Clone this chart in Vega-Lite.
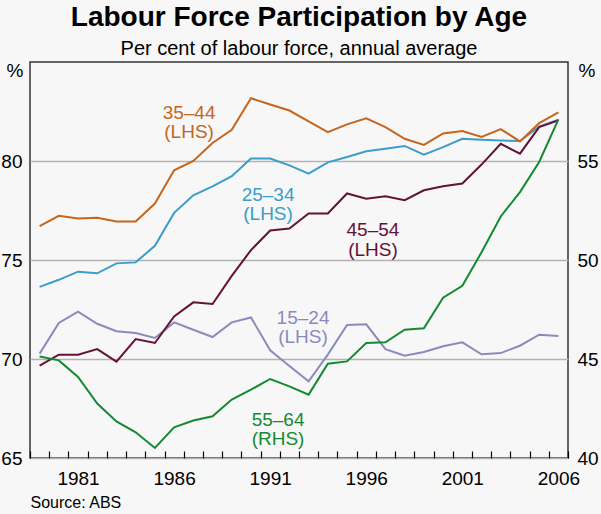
{
  "$schema": "https://vega.github.io/schema/vega-lite/v6.json",
  "width": 538,
  "height": 396,
  "autosize": {"type": "none"},
  "padding": {"left": 30, "top": 62, "right": 33, "bottom": 56},
  "background": "#f7f7f7",
  "title": {
    "text": "Labour Force Participation by Age",
    "subtitle": "Per cent of labour force, annual average",
    "anchor": "middle",
    "font": "Liberation Sans",
    "fontSize": 28,
    "fontWeight": "bold",
    "color": "#000000",
    "subtitleFont": "Liberation Sans",
    "subtitleFontSize": 20,
    "subtitleColor": "#000000",
    "subtitlePadding": 6.5,
    "offset": 3
  },
  "config": {
    "view": {"stroke": "#333333", "strokeWidth": 1.5},
    "axis": {
      "labelFont": "Liberation Sans",
      "labelFontSize": 19,
      "labelColor": "#000000",
      "titleFont": "Liberation Sans",
      "titleColor": "#000000",
      "titleFontWeight": "normal",
      "domain": false
    },
    "text": {"font": "Liberation Sans"}
  },
  "datasets": {
    "lfp": [
      {"year": 1979, "15–24": 70.27, "25–34": 73.64, "35–44": 76.71, "45–54": 69.66, "55–64": 45.13},
      {"year": 1980, "15–24": 71.82, "25–34": 74.0, "35–44": 77.23, "45–54": 70.22, "55–64": 44.93},
      {"year": 1981, "15–24": 72.39, "25–34": 74.41, "35–44": 77.1, "45–54": 70.22, "55–64": 44.09},
      {"year": 1982, "15–24": 71.78, "25–34": 74.33, "35–44": 77.13, "45–54": 70.5, "55–64": 42.75},
      {"year": 1983, "15–24": 71.4, "25–34": 74.83, "35–44": 76.95, "45–54": 69.87, "55–64": 41.85},
      {"year": 1984, "15–24": 71.31, "25–34": 74.88, "35–44": 76.95, "45–54": 71.01, "55–64": 41.3},
      {"year": 1985, "15–24": 71.06, "25–34": 75.72, "35–44": 77.85, "45–54": 70.81, "55–64": 40.51},
      {"year": 1986, "15–24": 71.85, "25–34": 77.38, "35–44": 79.53, "45–54": 72.15, "55–64": 41.55},
      {"year": 1987, "15–24": 71.48, "25–34": 78.27, "35–44": 80.0, "45–54": 72.86, "55–64": 41.89},
      {"year": 1988, "15–24": 71.11, "25–34": 78.72, "35–44": 80.91, "45–54": 72.78, "55–64": 42.11},
      {"year": 1989, "15–24": 71.85, "25–34": 79.23, "35–44": 81.58, "45–54": 74.2, "55–64": 42.95},
      {"year": 1990, "15–24": 72.1, "25–34": 80.12, "35–44": 83.17, "45–54": 75.5, "55–64": 43.45},
      {"year": 1991, "15–24": 70.44, "25–34": 80.12, "35–44": 82.85, "45–54": 76.49, "55–64": 43.99},
      {"year": 1992, "15–24": 69.65, "25–34": 79.78, "35–44": 82.55, "45–54": 76.59, "55–64": 43.62},
      {"year": 1993, "15–24": 68.87, "25–34": 79.36, "35–44": 82.0, "45–54": 77.35, "55–64": 43.2},
      {"year": 1994, "15–24": 70.22, "25–34": 79.93, "35–44": 81.46, "45–54": 77.35, "55–64": 44.76},
      {"year": 1995, "15–24": 71.72, "25–34": 80.2, "35–44": 81.85, "45–54": 78.36, "55–64": 44.88},
      {"year": 1996, "15–24": 71.75, "25–34": 80.49, "35–44": 82.16, "45–54": 78.1, "55–64": 45.81},
      {"year": 1997, "15–24": 70.5, "25–34": 80.62, "35–44": 81.71, "45–54": 78.22, "55–64": 45.84},
      {"year": 1998, "15–24": 70.17, "25–34": 80.76, "35–44": 81.12, "45–54": 78.02, "55–64": 46.48},
      {"year": 1999, "15–24": 70.35, "25–34": 80.32, "35–44": 80.81, "45–54": 78.52, "55–64": 46.55},
      {"year": 2000, "15–24": 70.64, "25–34": 80.7, "35–44": 81.39, "45–54": 78.72, "55–64": 48.1},
      {"year": 2001, "15–24": 70.84, "25–34": 81.12, "35–44": 81.51, "45–54": 78.86, "55–64": 48.7},
      {"year": 2002, "15–24": 70.24, "25–34": 81.07, "35–44": 81.22, "45–54": 79.82, "55–64": 50.39},
      {"year": 2003, "15–24": 70.3, "25–34": 81.04, "35–44": 81.61, "45–54": 80.87, "55–64": 52.2},
      {"year": 2004, "15–24": 70.67, "25–34": 81.01, "35–44": 80.99, "45–54": 80.37, "55–64": 53.43},
      {"year": 2005, "15–24": 71.23, "25–34": 81.74, "35–44": 81.91, "45–54": 81.71, "55–64": 54.95},
      {"year": 2006, "15–24": 71.16, "25–34": 82.08, "35–44": 82.45, "45–54": 82.05, "55–64": 57.1}
    ],
    "notes": [
      {"age": "35–44", "side": "LHS", "label": "35–44\n(LHS)", "year": 1986.78, "value": 82.43},
      {"age": "25–34", "side": "LHS", "label": "25–34\n(LHS)", "year": 1990.89, "value": 78.29},
      {"age": "45–54", "side": "LHS", "label": "45–54\n(LHS)", "year": 1996.35, "value": 76.5},
      {"age": "15–24", "side": "LHS", "label": "15–24\n(LHS)", "year": 1992.71, "value": 72.09},
      {"age": "55–64", "side": "RHS", "label": "55–64\n(RHS)", "year": 1991.41, "value": 41.92}
    ]
  },
  "encoding": {
    "x": {
      "field": "year",
      "type": "quantitative",
      "scale": {"domain": [1978.5, 2006.5], "nice": false, "zero": false},
      "axis": {
        "values": [1978.5, 1979.5, 1980.5, 1981.5, 1982.5, 1983.5, 1984.5, 1985.5, 1986.5, 1987.5, 1988.5, 1989.5, 1990.5, 1991.5, 1992.5, 1993.5, 1994.5, 1995.5, 1996.5, 1997.5, 1998.5, 1999.5, 2000.5, 2001.5, 2002.5, 2003.5, 2004.5, 2005.5, 2006.5],
        "labelExpr": "(datum.value + 0.5) % 5 == 1 ? format(datum.value + 0.5, 'd') : ''",
        "labelOffset": 9.6,
        "labelPadding": 18,
        "labelFlush": false,
        "labelOverlap": false,
        "tickSize": -7,
        "tickColor": "#000000",
        "tickWidth": 1.2,
        "grid": false,
        "title": "Source: ABS",
        "titleFontSize": 16,
        "titleX": 0,
        "titleY": 49.5,
        "titleAlign": "left",
        "titleBaseline": "alphabetic"
      }
    }
  },
  "layer": [
    {
      "encoding": {
        "y": {
          "field": "value",
          "type": "quantitative",
          "scale": {"domain": [65, 85], "nice": false, "zero": false},
          "axis": {
            "orient": "left",
            "values": [65, 70, 75, 80],
            "ticks": false,
            "labelPadding": 8,
            "grid": true,
            "gridColor": "#b3b3b3",
            "gridWidth": 1.5,
            "title": "%",
            "titleFontSize": 19,
            "titleAngle": 0,
            "titleX": -7,
            "titleY": 8.5,
            "titleAlign": "right",
            "titleBaseline": "middle"
          }
        },
        "color": {
          "field": "age",
          "type": "nominal",
          "scale": {
            "domain": ["15–24", "25–34", "35–44", "45–54", "55–64"],
            "range": ["#8a8bbd", "#3a9dcb", "#c4661e", "#641238", "#138a32"]
          },
          "legend": null
        }
      },
      "layer": [
        {
          "data": {"name": "lfp"},
          "transform": [{"fold": ["15–24", "25–34", "35–44", "45–54"], "as": ["age", "value"]}],
          "mark": {"type": "line", "strokeWidth": 2}
        },
        {
          "data": {"name": "notes"},
          "transform": [{"filter": "datum.side == 'LHS'"}],
          "mark": {"type": "text", "fontSize": 19, "lineBreak": "\n", "lineHeight": 19.5, "align": "center", "baseline": "middle"},
          "encoding": {"text": {"field": "label"}}
        }
      ]
    },
    {
      "encoding": {
        "y": {
          "field": "value",
          "type": "quantitative",
          "scale": {"domain": [40, 60], "nice": false, "zero": false},
          "axis": {
            "orient": "right",
            "values": [40, 45, 50, 55],
            "ticks": false,
            "labelPadding": 9,
            "grid": false,
            "title": "%",
            "titleFontSize": 19,
            "titleAngle": 0,
            "titleX": 10,
            "titleY": 8.5,
            "titleAlign": "left",
            "titleBaseline": "middle"
          }
        },
        "color": {
          "field": "age",
          "type": "nominal",
          "scale": {
            "domain": ["15–24", "25–34", "35–44", "45–54", "55–64"],
            "range": ["#8a8bbd", "#3a9dcb", "#c4661e", "#641238", "#138a32"]
          },
          "legend": null
        }
      },
      "layer": [
        {
          "data": {"name": "lfp"},
          "transform": [{"fold": ["55–64"], "as": ["age", "value"]}],
          "mark": {"type": "line", "strokeWidth": 2}
        },
        {
          "data": {"name": "notes"},
          "transform": [{"filter": "datum.side == 'RHS'"}],
          "mark": {"type": "text", "fontSize": 19, "lineBreak": "\n", "lineHeight": 19.5, "align": "center", "baseline": "middle"},
          "encoding": {"text": {"field": "label"}}
        }
      ]
    }
  ],
  "resolve": {"scale": {"y": "independent"}}
}
